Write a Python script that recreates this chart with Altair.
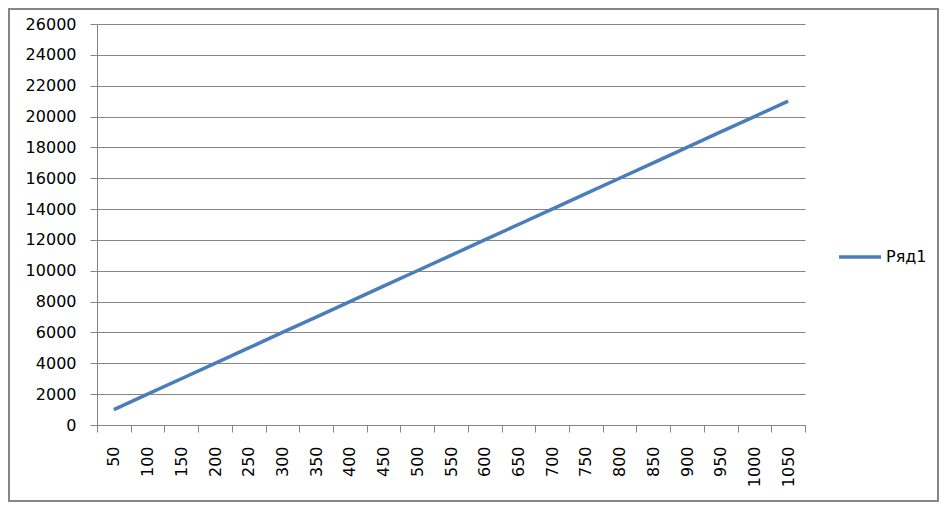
import altair as alt
import pandas as pd

categories = ["50", "100", "150", "200", "250", "300", "350", "400", "450", "500",
              "550", "600", "650", "700", "750", "800", "850", "900", "950", "1000", "1050"]
values = [1000, 2000, 3000, 4000, 5000, 6000, 7000, 8000, 9000, 10000,
          11000, 12000, 13000, 14000, 15000, 16000, 17000, 18000, 19000, 20000, 21000]
series_name = "Ряд1"

df = pd.DataFrame({"x": categories, "y": values, "s": [series_name] * len(categories)})

GRAY = "#868686"
FONT = "DejaVu Sans"
W, H = 708, 401
PL, PT, PR, PB = 89, 16, 134, 77

line = alt.Chart(df).mark_line(strokeWidth=3.5, color="#4a7ebb").encode(
    x=alt.X("x:O", sort=categories, bandPosition=0.5,
            scale=alt.Scale(type="band", paddingInner=0, paddingOuter=0),
            axis=alt.Axis(title=None, labelAngle=270, labelAlign="right", labelBaseline="middle",
                          tickBand="extent", tickSize=7, tickColor=GRAY, domainColor=GRAY,
                          labelPadding=14, labelFontSize=16, labelFont=FONT, labelColor="black",
                          grid=False)),
    y=alt.Y("y:Q", scale=alt.Scale(domain=[0, 26000], nice=False),
            axis=alt.Axis(title=None, values=list(range(0, 26001, 2000)), tickSize=7,
                          tickColor=GRAY, domainColor=GRAY, gridColor=GRAY, gridOpacity=1,
                          labelPadding=14, labelFontSize=16, labelFont=FONT, labelColor="black",
                          format="d")),
    color=alt.Color("s:N", scale=alt.Scale(range=["#4a7ebb"]),
                    legend=alt.Legend(title=None, orient="none", legendX=740, legendY=210,
                                      symbolType="stroke", symbolSize=1764, symbolStrokeWidth=3.5,
                                      labelFontSize=16, labelFont=FONT, labelColor="black",
                                      labelOffset=3)),
)

border = alt.Chart(df).mark_rect(fill=None, stroke=GRAY, strokeWidth=2).encode(
    x=alt.value(-PL + 1), x2=alt.value(W + PR - 1),
    y=alt.value(-PT + 1), y2=alt.value(H + PB - 1),
)

chart = alt.layer(border, line).properties(
    width=W, height=H,
    autosize=alt.AutoSizeParams(type="none"),
    padding={"left": PL, "top": PT, "right": PR, "bottom": PB},
).configure_view(stroke=None)

chart.save("out.html", embed_options={"renderer": "svg", "actions": False})
